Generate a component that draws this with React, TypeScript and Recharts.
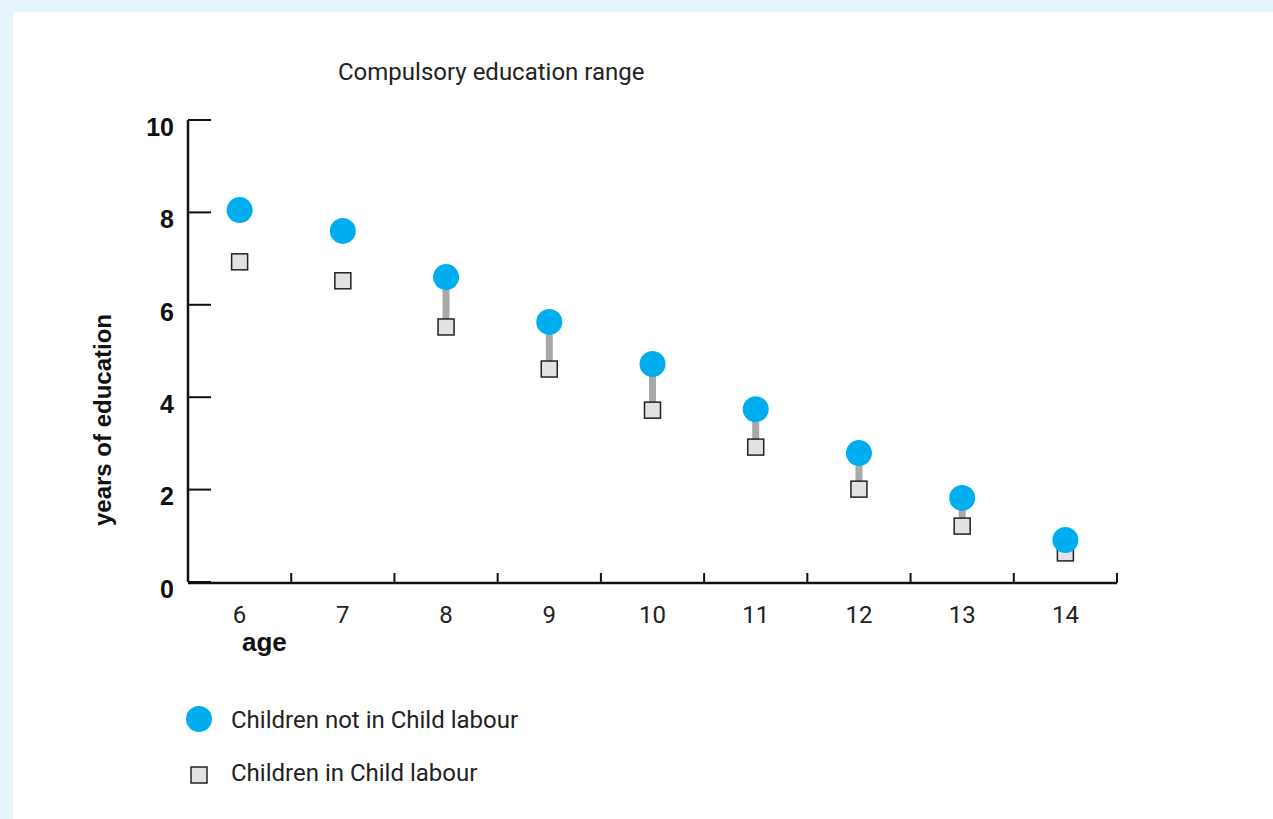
import React from "react";
import { ScatterChart, Scatter, XAxis, YAxis, ErrorBar } from "recharts";

const ages = [6, 7, 8, 9, 10, 11, 12, 13, 14];
const notInLabour = [8.05, 7.6, 6.6, 5.63, 4.72, 3.74, 2.79, 1.82, 0.91];
const inLabour = [6.93, 6.52, 5.52, 4.61, 3.72, 2.92, 2.01, 1.21, 0.63];
// ages inside the compulsory education range get a connector
const inCompulsoryRange = [false, false, true, true, true, true, true, true, true];
const yTicks = [0, 2, 4, 6, 8, 10];
const ageBoundaries = [6.5, 7.5, 8.5, 9.5, 10.5, 11.5, 12.5, 13.5, 14.5];

const BLUE = "#00aeef";
const SQUARE_FILL = "#e1e2e4";
const INK = "#111";

const labourData = ages.map((age, i) => ({
  age,
  value: inLabour[i],
  gap: [0, inCompulsoryRange[i] ? notInLabour[i] - inLabour[i] : 0],
}));
const notLabourData = ages.map((age, i) => ({ age, value: notInLabour[i] }));

const Circle = (props: any) => <circle cx={props.cx} cy={props.cy} r={13} fill={BLUE} />;
const Square = (props: any) => (
  <rect x={props.cx - 8} y={props.cy - 8} width={16} height={16} fill={SQUARE_FILL} stroke="#222" strokeWidth={1.5} />
);
const NoLabel = () => <g />;

const textFont = "Roboto, 'Liberation Sans', sans-serif";
const boldFont = "'Liberation Sans', Arial, sans-serif";

export default function App() {
  return (
    <div style={{ position: "fixed", inset: 0, background: "#e6f4fc", overflow: "hidden" }}>
      <div style={{ position: "absolute", left: 13, top: 12, right: 0, bottom: 0, background: "#fff" }} />
      <div
        style={{
          position: "absolute", left: 338, top: 58, fontFamily: textFont, fontSize: 24, lineHeight: "28px",
          color: "#222", whiteSpace: "nowrap",
        }}
      >
        Compulsory education range
      </div>
      <div
        style={{
          position: "absolute", left: 103, top: 420, transform: "translate(-50%, -50%) rotate(-90deg)",
          fontFamily: boldFont, fontWeight: 700, fontSize: 24, lineHeight: "28px", color: INK, whiteSpace: "nowrap",
        }}
      >
        years of education
      </div>
      <div
        style={{
          position: "absolute", left: 242, top: 627, fontFamily: boldFont, fontWeight: 700, fontSize: 26,
          lineHeight: "30px", color: INK,
        }}
      >
        age
      </div>

      <div style={{ position: "absolute", left: 0, top: 0 }}>
        <ScatterChart width={1273} height={819} margin={{ top: 120, left: 187, right: 156, bottom: 235 }}>
          <XAxis
            xAxisId="bounds"
            type="number"
            dataKey="age"
            domain={[5.5, 14.5]}
            ticks={ageBoundaries}
            interval={0}
            tick={NoLabel}
            tickSize={-10}
            height={1}
            stroke={INK}
            axisLine={{ stroke: INK, strokeWidth: 2.5 }}
            tickLine={{ stroke: INK, strokeWidth: 2 }}
          />
          <XAxis
            xAxisId="age"
            type="number"
            dataKey="age"
            domain={[5.5, 14.5]}
            ticks={ages}
            interval={0}
            height={1}
            axisLine={false}
            tickLine={false}
            tickSize={8}
            tickMargin={16}
            tick={{ fill: "#222", fontSize: 24, fontFamily: textFont }}
          />
          <YAxis
            type="number"
            domain={[0, 10]}
            ticks={yTicks}
            width={1}
            tickSize={-23}
            tickMargin={37}
            axisLine={{ stroke: INK, strokeWidth: 2.5 }}
            tickLine={{ stroke: INK, strokeWidth: 2 }}
            tick={{ fill: INK, fontSize: 25, fontWeight: 700, fontFamily: boldFont, dy: 7 }}
          />
          <Scatter
            xAxisId="age"
            data={labourData}
            dataKey="value"
            shape={Square}
            isAnimationActive={false}
          >
            <ErrorBar dataKey="gap" direction="y" width={0} stroke="#a8a8a8" strokeWidth={7} isAnimationActive={false} />
          </Scatter>
          <Scatter xAxisId="bounds" data={notLabourData} dataKey="value" shape={Circle} isAnimationActive={false} />
        </ScatterChart>
      </div>

      <svg style={{ position: "absolute", left: 180, top: 700 }} width={40} height={95}>
        <circle cx={19} cy={19} r={13} fill={BLUE} />
        <rect x={11} y={67} width={16} height={16} fill={SQUARE_FILL} stroke="#222" strokeWidth={1.5} />
      </svg>
      <div style={{ position: "absolute", left: 231, top: 706, fontFamily: textFont, fontSize: 24, lineHeight: "28px", color: "#222", whiteSpace: "nowrap" }}>
        Children not in Child labour
      </div>
      <div style={{ position: "absolute", left: 231, top: 759, fontFamily: textFont, fontSize: 24, lineHeight: "28px", color: "#222", whiteSpace: "nowrap" }}>
        Children in Child labour
      </div>
    </div>
  );
}
